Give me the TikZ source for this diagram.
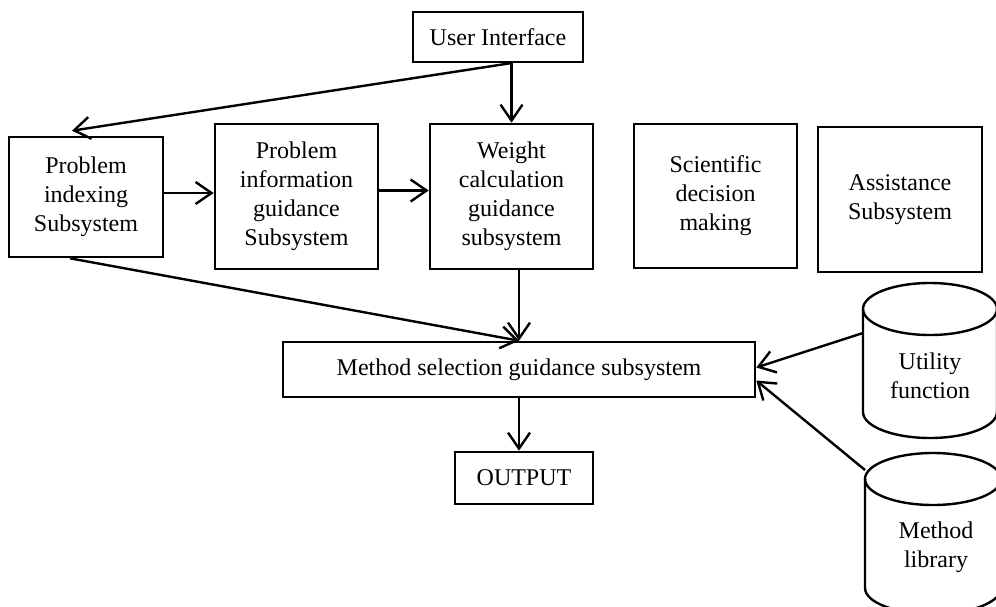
\documentclass[tikz,border=0pt]{standalone}
\usepackage{fontspec}
\setmainfont{Liberation Serif}
\usetikzlibrary{arrows.meta,calc}
\begin{document}
\begin{tikzpicture}[x=1pt,y=-1pt,
  every node/.style={font=\fontsize{24}{29}\selectfont},
  box/.style={draw,line width=2.6pt,align=center,inner sep=0pt},
  txt/.style={align=center,inner sep=0pt},
  conn/.style={line width=2.4pt,-{Straight Barb[length=16pt,width=22pt,line width=2.4pt]}},
  drum/.style={line width=2.4pt}]
\useasboundingbox (0,0) rectangle (996,606);
\clip (0,0) rectangle (996,606);

% subsystem boxes
\node[box,minimum width=170,minimum height=50] (ui) at (498,37) {User Interface};
\node[box,minimum width=154,minimum height=120] (pidx) at (86,197) {Problem\\indexing\\Subsystem};
\node[box,minimum width=163,minimum height=145] (pinfo) at (296.5,196.5) {Problem\\information\\guidance\\Subsystem};
\node[box,minimum width=163,minimum height=145] (weight) at (511.5,196.5) {Weight\\calculation\\guidance\\subsystem};
\node[box,minimum width=163,minimum height=144] (sci) at (715.5,196) {Scientific\\decision\\making};
\node[box,minimum width=164,minimum height=145] (assist) at (900,199.5) {Assistance\\Subsystem};
\node[box,minimum width=472,minimum height=55] (method) at (519,369.5) {Method selection guidance subsystem};
\node[box,minimum width=138,minimum height=52] (output) at (524,478) {OUTPUT};

% databases drawn as cylinders
\draw[drum] (863,309) -- (863,412) arc[start angle=180,end angle=0,x radius=67,y radius=26]
  -- (997,309);
\draw[drum] (930,309) ellipse[x radius=67,y radius=26];
\node[txt] (util) at (930,376) {Utility\\function};
\coordinate (utilL) at (863,333);

\draw[drum] (865,479) -- (865,588) arc[start angle=180,end angle=0,x radius=68,y radius=26]
  -- (1001,479);
\draw[drum] (933,479) ellipse[x radius=68,y radius=26];
\node[txt] (mlib) at (936,547) {Method\\library};
\coordinate (mlibL) at (865,470);

% connectors
\draw[conn] (ui.south -| weight.north) -- (weight.north);
\draw[conn] ([xshift=12pt]ui.south) -- ($(pidx.north)+(-14,-5)$);
\draw[conn] ([yshift=4pt]pidx.east) -- ([yshift=4pt]pidx.east -| pinfo.west);
\draw[conn] ([yshift=6pt]pinfo.east) -- ([yshift=6pt]pinfo.east -| weight.west);
\draw[conn] ([xshift=-16pt]pidx.south) -- (method.north);
\draw[conn] (weight.south -| method.north) -- (method.north);
\draw[conn] (method.south) -- (method.south |- output.north);
\draw[conn] (utilL) -- ([yshift=2pt]method.east);
\draw[conn] (mlibL) -- ([yshift=-11pt]method.east);
\end{tikzpicture}
\end{document}
